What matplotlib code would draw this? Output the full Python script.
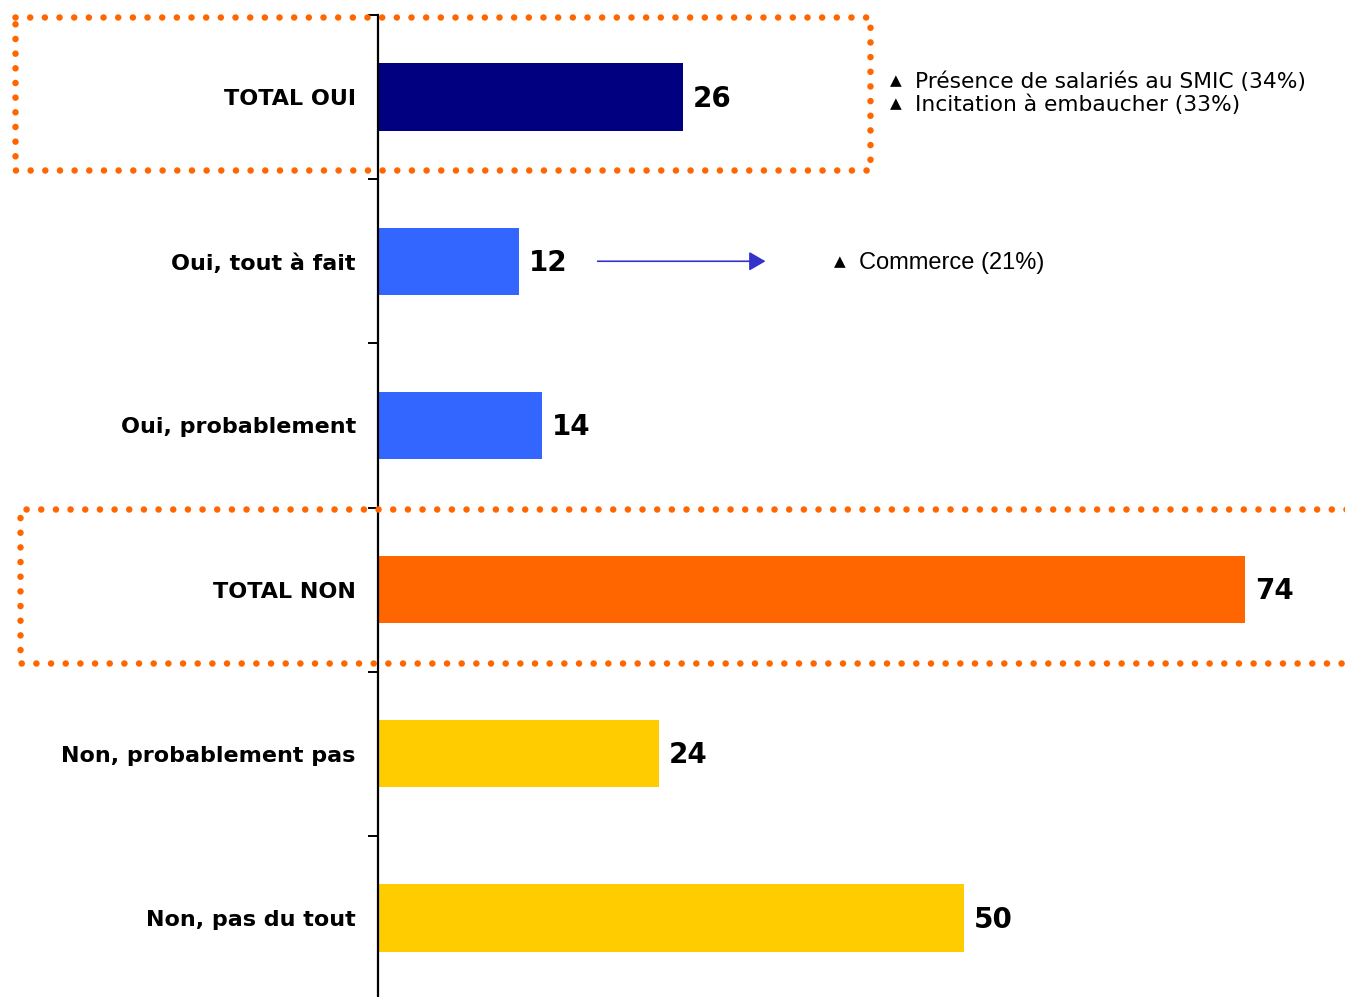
import matplotlib
matplotlib.use("Agg")
import matplotlib.pyplot as plt
from matplotlib.lines import Line2D

categories = ["TOTAL OUI", "Oui, tout à fait", "Oui, probablement",
              "TOTAL NON", "Non, probablement pas", "Non, pas du tout"]
values = [26, 12, 14, 74, 24, 50]
colors = ["#000080", "#3366FF", "#3366FF", "#FF6600", "#FFCC00", "#FFCC00"]
notes_oui = ["Présence de salariés au SMIC (34%)", "Incitation à embaucher (33%)"]
note_tout = "Commerce (21%)"

W, H = 1345, 997
fig = plt.figure(figsize=(W / 100, H / 100), dpi=100)
ax_left, ax_top, ax_bottom = 378, 15, 1000
ax = fig.add_axes([ax_left / W, (H - ax_bottom) / H, (W - ax_left) / W, (ax_bottom - ax_top) / H])

n = len(categories)
ypos = list(range(n))
ax.barh(ypos, values, height=0.41, color=colors, zorder=2)
ax.set_ylim(n - 0.5, -0.5)
ax.set_xlim(0, (W - ax_left) / 11.72)

for s in ["top", "right", "bottom"]:
    ax.spines[s].set_visible(False)
ax.spines["left"].set_linewidth(1.6)
ax.spines["left"].set_color("black")
ax.set_xticks([])
ax.set_yticks(ypos)
ax.set_yticklabels(categories, fontsize=16, fontweight="bold", family="DejaVu Sans")
ax.tick_params(axis="y", which="major", length=0, pad=16)
ax.set_yticks([i - 0.5 for i in range(n + 1)], minor=True)
ax.tick_params(axis="y", which="minor", length=7, width=1.4, color="black", direction="out")
ax.patch.set_alpha(0)

for y, v in zip(ypos, values):
    ax.text(v + 0.85, y + 0.01, str(v), va="center", ha="left", fontsize=20, fontweight="bold",
            family="DejaVu Sans")

# notes
fig.text(890 / W, 1 - 81 / H, "▲", fontsize=11, va="center", ha="left")
fig.text(915 / W, 1 - 82 / H, notes_oui[0], fontsize=15.7, va="center", ha="left")
fig.text(890 / W, 1 - 104 / H, "▲", fontsize=11, va="center", ha="left")
fig.text(915 / W, 1 - 105 / H, notes_oui[1], fontsize=15.7, va="center", ha="left")
fig.text(834 / W, 1 - 262 / H, "▲", fontsize=11, va="center", ha="left")
fig.text(859 / W, 1 - 263 / H, note_tout, fontsize=17, va="center", ha="left", family="Liberation Sans")

# arrow
ax.annotate("", xy=(33.3, 1), xytext=(18.5, 1),
            arrowprops=dict(arrowstyle="-|>,head_length=1.0,head_width=0.58", color="#3333CC", lw=1.2))

# dotted boxes
def dotted(xs, ys):
    lw = 4.7
    ln = Line2D([x / W for x in xs], [1 - y / H for y in ys], transform=fig.transFigure,
                color="#FF6600", lw=lw, linestyle=(0, (0.01, 14.6 * 0.72 / lw)),
                dash_capstyle="round", solid_capstyle="round", zorder=5)
    fig.add_artist(ln)

dotted([15, 870, 870, 15, 15], [17, 17, 170, 170, 17])
dotted([1350, 20, 20, 1350], [509, 509, 663, 663])

fig.savefig("out.png", dpi=100)
